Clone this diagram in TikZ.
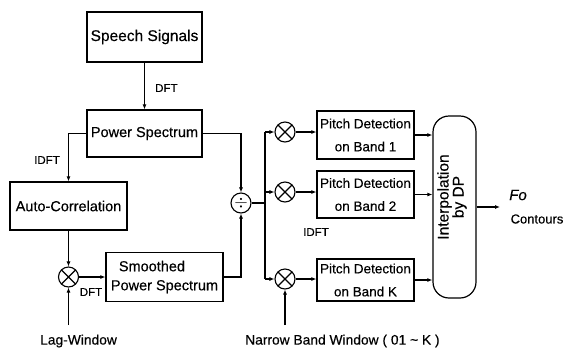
\documentclass[tikz,border=0pt]{standalone}
\usepackage{fontspec}
\setmainfont{Liberation Sans}[FakeBold=0.4]
\usetikzlibrary{arrows.meta}
\begin{document}
\begin{tikzpicture}[x=1pt,y=-1pt,
  box/.style={draw, line width=1.2pt, inner sep=0pt, font=\fontsize{14.5}{16}\selectfont},
  pbox/.style={draw, line width=1.2pt, inner sep=0pt, align=center, minimum width=97pt, font=\fontsize{13.5}{23}\selectfont},
  op/.style={draw, circle, line width=1.1pt, minimum size=20pt, inner sep=0pt},
  mul/.style={op, path picture={\draw[line width=1.1pt] (path picture bounding box.north west) -- (path picture bounding box.south east) (path picture bounding box.north east) -- (path picture bounding box.south west);}},
  lab/.style={font=\fontsize{11.5}{13}\selectfont, inner sep=0pt},
  txt/.style={font=\fontsize{13.8}{15}\selectfont, inner sep=0pt},
  wire/.style={line width=1.1pt},
  arr/.style={wire, -{Latex[length=5pt,width=4pt]}}]
\useasboundingbox (0,0) rectangle (565,349);

% left column
\node[box, minimum width=115pt, minimum height=50pt, font=\fontsize{15.5}{17}\selectfont] (ss) at (144.5,37) {Speech Signals};
\node[box, minimum width=115pt, minimum height=47pt] (ps) at (144.5,133.5) {Power Spectrum};
\node[box, minimum width=117pt, minimum height=48pt] (ac) at (68.5,206) {Auto-Correlation};
\node[mul] (m1) at (68.5,277) {};
\node[box, minimum width=117pt, minimum height=49pt, align=left, font=\fontsize{14.5}{19}\selectfont] (sm) at (164.5,277) {\hspace*{8pt}Smoothed\\Power Spectrum};
\node[op, font=\fontsize{19}{19}\selectfont] (dv) at (241,203) {$\div$};

% band multipliers
\node[mul] (x1) at (285,132) {};
\node[mul] (x2) at (285,192) {};
\node[mul] (x3) at (285,279) {};
\coordinate (bt) at (265,132);
\coordinate (bm) at (265,192);
\coordinate (bb) at (265,279);

% pitch detectors
\node[pbox, minimum height=48pt] (p1) at (365.5,135) {Pitch Detection\\on Band 1};
\node[pbox, minimum height=47pt] (p2) at (365.5,194.5) {Pitch Detection\\on Band 2};
\node[pbox, minimum height=42pt] (p3) at (365.5,280) {Pitch Detection\\on Band K};

% interpolation
\node[draw, line width=1.2pt, rounded corners=16pt, minimum width=43pt, minimum height=182pt] (ip) at (454.5,207) {};
\node[rotate=90, align=center, inner sep=0pt, font=\fontsize{15.5}{15}\selectfont] (iptxt) at (452,197) {Interpolation\\by DP};
\coordinate (fo) at (500,207);
\node[font=\fontsize{15}{15}\selectfont\itshape, inner sep=0pt] (folab) at (518,195) {Fo};
\node[font=\fontsize{13}{13}\selectfont, inner sep=0pt] (cont) at (537,219) {Contours};

% connectors
\draw[arr] (ss) -- (ps);
\node[lab, anchor=west] (dft1) at (155,88) {DFT};
\draw[arr] (ps.west) -| (ac.north);
\node[lab] (idft1) at (47,160) {IDFT};
\draw[arr] (ac) -- (m1);
\coordinate (lagin) at (68.5,325);
\draw[arr] (lagin) -- (m1);
\node[txt, anchor=west] (lag) at (40,341) {Lag-Window};
\draw[arr] (m1.east) -- (m1.east -| sm.west);
\node[lab] (dft2) at (91,292) {DFT};
\draw[arr] (sm.east) -| (dv.south);
\draw[arr] (ps.east) -| (dv.north);
\draw[wire] (dv.east) -- (dv.east -| bt);
\draw[wire] (bt) -- (bb);
\draw[arr] (bt) -- (x1);
\draw[arr] (bm) -- (x2);
\draw[arr] (bb) -- (x3);
\draw[arr] (x1.east) -- (x1.east -| p1.west);
\draw[arr] (x2.east) -- (x2.east -| p2.west);
\draw[arr] (x3.east) -- (x3.east -| p3.west);
\draw[arr] (p1.east) -- (p1.east -| ip.west);
\draw[arr] (p2.east) -- (p2.east -| ip.west);
\draw[arr] (p3.east) -- (p3.east -| ip.west);
\draw[arr] (ip.east) -- (fo);
\coordinate (nbin) at (285,325);
\draw[arr] (nbin) -- (x3);
\node[txt, anchor=west] (nb) at (245,341) {Narrow Band Window ( 01 \textasciitilde{} K )};
\node[lab] (idft2) at (316,232) {IDFT};
\end{tikzpicture}
\end{document}
